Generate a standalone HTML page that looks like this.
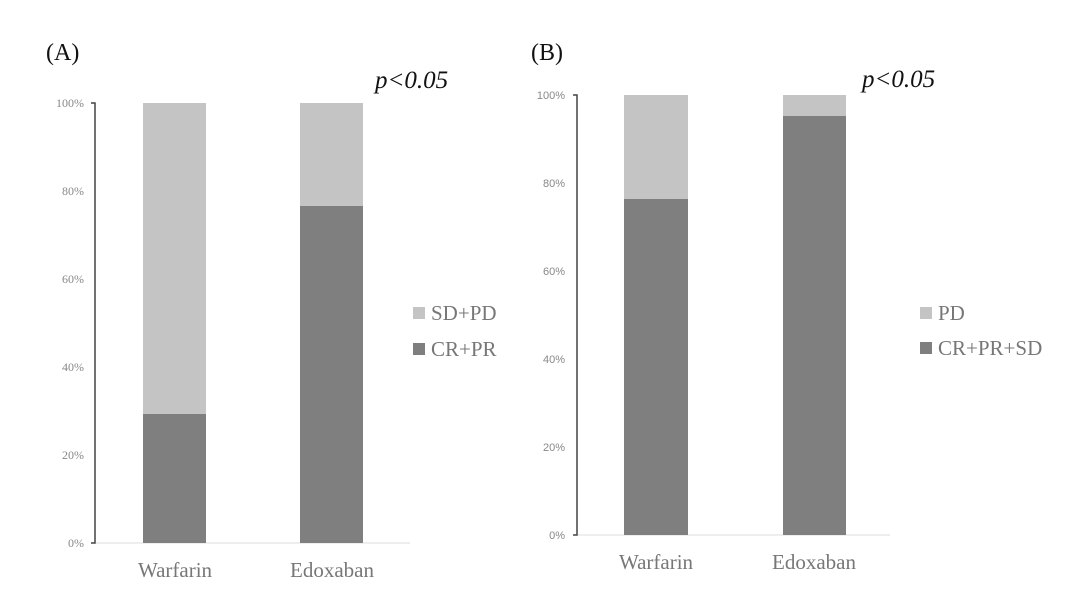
<!DOCTYPE html>
<html><head><style>body{margin:0;background:#fff}svg{display:block}</style></head><body>
<svg width="1080" height="592" xmlns="http://www.w3.org/2000/svg">
<g font-family="Liberation Serif, serif">
<text x="46" y="60" font-size="24" fill="#111">(A)</text>
<text x="531" y="60" font-size="24" fill="#111">(B)</text>
<text x="375" y="88" font-size="25" font-style="italic" fill="#111">p&lt;0.05</text>
<text x="862" y="87" font-size="25" font-style="italic" fill="#111">p&lt;0.05</text>
</g>
<!-- Panel A -->
<g font-family="Liberation Serif, serif" font-size="12" fill="#888" text-anchor="end">
<text x="84" y="107">100%</text><text x="84" y="195">80%</text><text x="84" y="283">60%</text>
<text x="84" y="371">40%</text><text x="84" y="459">20%</text><text x="84" y="547">0%</text>
</g>
<line x1="95" y1="543" x2="410" y2="543" stroke="#ddd" stroke-width="1"/>
<path d="M91 103H95V543H91" fill="none" stroke="#444" stroke-width="1.5"/>
<rect x="143" y="103" width="63" height="440" fill="#c4c4c4"/>
<rect x="143" y="414" width="63" height="129" fill="#7f7f7f"/>
<rect x="300" y="103" width="63" height="440" fill="#c4c4c4"/>
<rect x="300" y="206" width="63" height="337" fill="#7f7f7f"/>
<g font-family="Liberation Serif, serif" font-size="21" fill="#777" text-anchor="middle">
<text x="175" y="577">Warfarin</text><text x="332" y="577">Edoxaban</text>
</g>
<rect x="413" y="307" width="12" height="12" fill="#c4c4c4"/>
<rect x="413" y="343" width="12" height="12" fill="#7f7f7f"/>
<g font-family="Liberation Serif, serif" font-size="21" fill="#777">
<text x="431" y="320">SD+PD</text><text x="431" y="356">CR+PR</text>
</g>
<!-- Panel B -->
<g font-family="Liberation Sans, sans-serif" font-size="11" fill="#888" text-anchor="end">
<text x="565" y="99">100%</text><text x="565" y="187">80%</text><text x="565" y="275">60%</text>
<text x="565" y="363">40%</text><text x="565" y="451">20%</text><text x="565" y="539">0%</text>
</g>
<line x1="577" y1="535" x2="890" y2="535" stroke="#ddd" stroke-width="1"/>
<path d="M573 95H577V535H573" fill="none" stroke="#444" stroke-width="1.5"/>
<rect x="624" y="95" width="64" height="440" fill="#c4c4c4"/>
<rect x="624" y="199" width="64" height="336" fill="#7f7f7f"/>
<rect x="783" y="95" width="63" height="440" fill="#c4c4c4"/>
<rect x="783" y="116" width="63" height="419" fill="#7f7f7f"/>
<g font-family="Liberation Serif, serif" font-size="21" fill="#777" text-anchor="middle">
<text x="656" y="569">Warfarin</text><text x="814" y="569">Edoxaban</text>
</g>
<rect x="920" y="307" width="12" height="12" fill="#c4c4c4"/>
<rect x="920" y="342" width="12" height="12" fill="#7f7f7f"/>
<g font-family="Liberation Serif, serif" font-size="21" fill="#777">
<text x="938" y="320">PD</text><text x="938" y="355">CR+PR+SD</text>
</g>
</svg>
</body></html>
